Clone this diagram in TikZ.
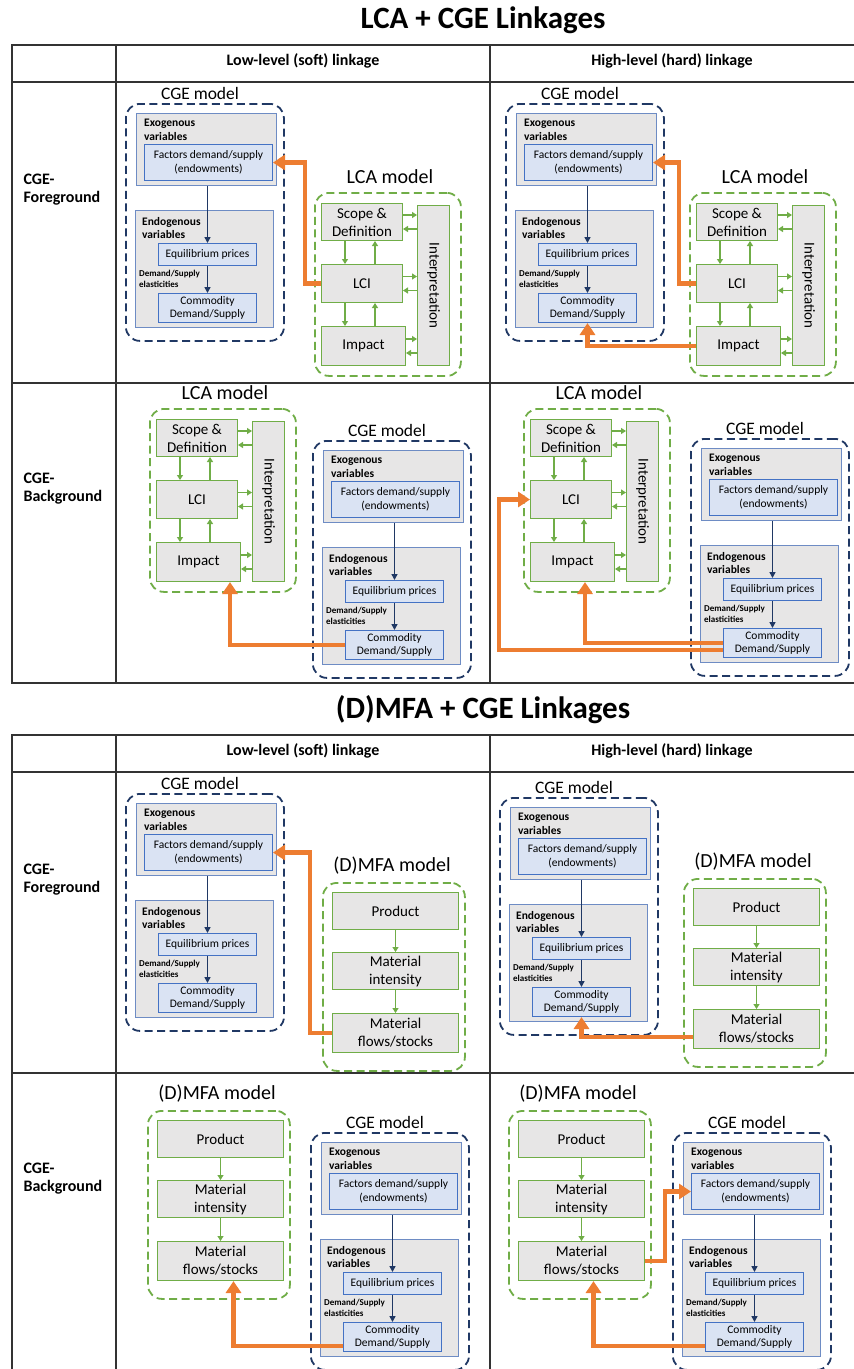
\documentclass[tikz,border=0pt]{standalone}
\usepackage{fontspec}
\setmainfont{Carlito}
\usepackage{xcolor}
\usepackage{tikz}
\usetikzlibrary{arrows.meta}
\definecolor{cgenavy}{HTML}{203864}
\definecolor{cgeedge}{HTML}{6E8CC4}
\definecolor{boxgray}{HTML}{E7E6E6}
\definecolor{varfill}{HTML}{DAE3F3}
\definecolor{varedge}{HTML}{4472C4}
\definecolor{lcagreen}{HTML}{70AD47}
\definecolor{linkorange}{HTML}{ED7D31}
\definecolor{rulegray}{HTML}{333333}

% CGE model block: #1 name, #2/#3 top-left corner of the dashed frame
\newcommand{\cgemodel}[3]{%
  \node[frame, draw=cgenavy, minimum width=158, minimum height=237] (#1) at (#2,#3) {};
  \node[cgetitle] (#1t) at (#2+75,#3-10) {CGE model};
  \node[varbox, minimum width=140, minimum height=72] (#1exo) at (#2+11,#3+10) {};
  \node[vartag] (#1exot) at (#2+19,#3+16) {Exogenous\\variables};
  \node[valbox, minimum width=128, minimum height=36] (#1fac) at (#2+19,#3+41) {Factors demand/supply\\(endowments)};
  \node[varbox, minimum width=138, minimum height=117] (#1endo) at (#2+10,#3+107) {};
  \node[vartag] (#1endot) at (#2+17,#3+114) {Endogenous\\variables};
  \node[valbox, minimum width=98, minimum height=22] (#1equ) at (#2+33,#3+140) {Equilibrium prices};
  \node[elast] (#1ela) at (#2+14,#3+167) {Demand/Supply\\elasticities};
  \node[valbox, minimum width=98, minimum height=29] (#1com) at (#2+33,#3+190) {Commodity\\Demand/Supply};
  \draw[cgearr] (#1exo.south -| #1equ.north) -- (#1equ.north);
  \draw[cgearr] (#1equ) -- (#1com);
}

% LCA model block
\newcommand{\lcamodel}[3]{%
  \node[frame, draw=lcagreen, minimum width=146, minimum height=183] (#1) at (#2,#3) {};
  \node[modtitle] (#1t) at (#2+76,#3-15) {LCA model};
  \node[stepbox, minimum width=81, minimum height=37] (#1sco) at (#2+7,#3+11) {Scope \&\\Definition};
  \node[stepbox, minimum width=81, minimum height=38] (#1lci) at (#2+7,#3+72) {LCI};
  \node[stepbox, minimum width=84, minimum height=39] (#1imp) at (#2+7,#3+134) {Impact};
  \node[stepbox, minimum width=32, minimum height=160] (#1int) at (#2+103,#3+13) {};
  \node[steptext, rotate=-90] (#1intt) at (#1int.center) {Interpretation};
  \draw[steparr] ([xshift=24pt]#1sco.south west) -- ([xshift=24pt]#1lci.north west);
  \draw[steparr] ([xshift=54pt]#1lci.north west) -- ([xshift=54pt]#1sco.south west);
  \draw[steparr] ([xshift=24pt]#1lci.south west) -- ([xshift=24pt]#1imp.north west);
  \draw[steparr] ([xshift=54pt]#1imp.north west) -- ([xshift=54pt]#1lci.south west);
  \foreach \bx in {sco,lci,imp}{
    \draw[steparr] ([yshift=7pt]#1\bx.east) -- ([yshift=7pt]#1\bx.east -| #1int.west);
    \draw[steparr] ([yshift=-7pt]#1\bx.east -| #1int.west) -- ([yshift=-7pt]#1\bx.east);
  }
}

% (D)MFA model block
\newcommand{\mfamodel}[3]{%
  \node[frame, draw=lcagreen, minimum width=142, minimum height=188] (#1) at (#2,#3) {};
  \node[modtitle] (#1t) at (#2+70,#3-16) {(D)MFA model};
  \node[stepbox, minimum width=126, minimum height=37] (#1pro) at (#2+10,#3+10) {Product};
  \node[stepbox, minimum width=126, minimum height=37] (#1mi) at (#2+10,#3+70) {Material\\intensity};
  \node[stepbox, minimum width=126, minimum height=39] (#1flo) at (#2+10,#3+131) {Material\\flows/stocks};
  \draw[steparr] (#1pro) -- (#1mi);
  \draw[steparr] (#1mi) -- (#1flo);
}

\begin{document}
\begin{tikzpicture}[x=1pt, y=-1pt,
    frame/.style={rounded corners=14pt, line width=1.8pt, dash pattern=on 8pt off 4.5pt,
                  anchor=north west, inner sep=0pt},
    cgetitle/.style={font=\fontsize{17.5}{20}\selectfont},
    modtitle/.style={font=\fontsize{20}{22}\selectfont},
    varbox/.style={draw=cgeedge, fill=boxgray, line width=0.9pt, anchor=north west, inner sep=0pt},
    valbox/.style={draw=varedge, fill=varfill, line width=1pt, anchor=north west, align=center,
                   inner sep=1pt, font=\fontsize{11.5}{13.5}\selectfont},
    vartag/.style={anchor=north west, inner sep=0pt, align=left, font=\bfseries\fontsize{11.5}{13.5}\selectfont},
    elast/.style={anchor=north west, inner sep=0pt, align=left, font=\bfseries\fontsize{9}{10.5}\selectfont},
    stepbox/.style={draw=lcagreen, fill=boxgray, line width=1pt, anchor=north west, align=center,
                    inner sep=1pt, font=\fontsize{15}{18}\selectfont},
    steptext/.style={font=\fontsize{15}{18}\selectfont, inner sep=0pt},
    cgearr/.style={-{Triangle[length=6pt, width=6pt]}, line width=1.8pt, cgenavy},
    steparr/.style={-{Triangle[length=5pt, width=6pt]}, line width=1.6pt, lcagreen},
    link/.style={-{Triangle[length=12pt, width=15pt]}, line width=4.5pt, linkorange},
    rule/.style={line width=1.3pt, rulegray},
    headtext/.style={font=\bfseries\fontsize{16}{18}\selectfont},
    rowtext/.style={anchor=west, align=left, font=\bfseries\fontsize{16}{18}\selectfont},
    maintitle/.style={font=\bfseries\fontsize{31}{33}\selectfont},
]
\useasboundingbox (0,0) rectangle (854,1369);

% Tables
\foreach \dy in {0,690} {
  \draw[rule] (854,45+\dy) -- (12,45+\dy) -- (12,683+\dy) -- (854,683+\dy);
  \draw[rule] (12,82+\dy) -- (854,82+\dy);
  \draw[rule] (12,383+\dy) -- (854,383+\dy);
  \draw[rule] (116,45+\dy) -- (116,683+\dy);
  \draw[rule] (490,45+\dy) -- (490,683+\dy);
}
\node[maintitle] (lcatitle) at (483,20) {LCA + CGE Linkages};
\node[maintitle] (mfatitle) at (483,710) {(D)MFA + CGE Linkages};
\node[headtext] (lcasoft) at (303,61) {Low-level (soft) linkage};
\node[headtext] (lcahard) at (672,61) {High-level (hard) linkage};
\node[headtext] (mfasoft) at (303,751) {Low-level (soft) linkage};
\node[headtext] (mfahard) at (672,751) {High-level (hard) linkage};
\node[rowtext] (lcafg) at (20,190) {CGE-\\Foreground};
\node[rowtext] (lcabg) at (20,489) {CGE-\\Background};
\node[rowtext] (mfafg) at (20,880) {CGE-\\Foreground};
\node[rowtext] (mfabg) at (20,1179) {CGE-\\Background};

% LCA, CGE foreground
\cgemodel{cgeA}{125}{103}
\lcamodel{lcaA}{314}{192}
\cgemodel{cgeB}{505}{103}
\lcamodel{lcaB}{689}{192}

% LCA, CGE background
\lcamodel{lcaC}{149}{408}
\cgemodel{cgeC}{312}{440}
\lcamodel{lcaD}{523}{408}
\cgemodel{cgeD}{690}{438}

% (D)MFA, CGE foreground
\cgemodel{cgeE}{125}{793}
\mfamodel{mfaE}{322}{882}
\cgemodel{cgeF}{499}{797}
\mfamodel{mfaF}{683}{878}

% (D)MFA, CGE background
\mfamodel{mfaG}{147}{1110}
\cgemodel{cgeG}{310}{1132}
\mfamodel{mfaH}{508}{1110}
\cgemodel{cgeH}{672}{1132}

% Linkages
\draw[link] (lcaAlci.west) -- ++(-16,0) |- (cgeAfac.east);
\draw[link] (lcaBlci.west) -- ++(-17,0) |- (cgeBfac.east);
\draw[link] (lcaBimp.west) -| (cgeBcom.south);
\draw[link] (cgeCcom.west) -| ([xshift=-11pt]lcaCimp.south east);
\draw[link] (cgeDcom.west) -| ([xshift=-30pt]lcaDimp.south east);
\draw[link] ([yshift=-7pt]cgeDcom.west) -| ([xshift=-31pt]lcaDlci.west) -- (lcaDlci.west);
\draw[link] (mfaEflo.west) -- ++(-22,0) |- (cgeEfac.east);
\draw[link] ([yshift=-8pt]mfaFflo.west) -| (cgeFcom.south);
\draw[link] ([yshift=-9pt]cgeGcom.west) -| ([xshift=13pt]mfaGflo.south);
\draw[link] (mfaHflo.east) -- ++(20,0) |- (cgeHfac.west);
\draw[link] ([yshift=-9pt]cgeHcom.west) -| ([xshift=12pt]mfaHflo.south);

\end{tikzpicture}
\end{document}
